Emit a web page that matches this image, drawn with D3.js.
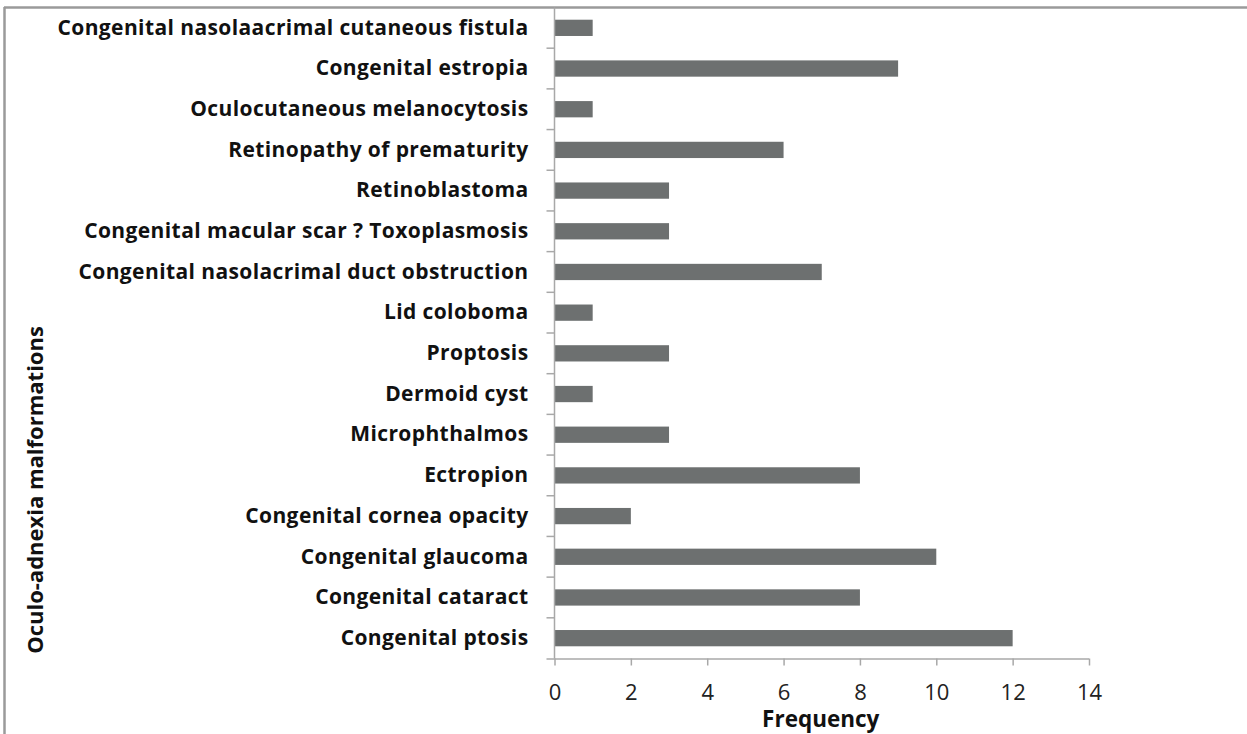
<!DOCTYPE html>
<html>
<head>
<meta charset="utf-8">
<script src="https://cdn.jsdelivr.net/npm/d3@7"></script>
<style>
  html, body { margin: 0; padding: 0; background: #fff; }
  svg { display: block; }
</style>
</head>
<body>
<svg id="chart" width="1247" height="734"></svg>
<script>
// Categories listed bottom-to-top as in the chart
const categories = [
  "Congenital ptosis",
  "Congenital cataract",
  "Congenital glaucoma",
  "Congenital cornea opacity",
  "Ectropion",
  "Microphthalmos",
  "Dermoid cyst",
  "Proptosis",
  "Lid coloboma",
  "Congenital nasolacrimal duct obstruction",
  "Congenital macular scar ? Toxoplasmosis",
  "Retinoblastoma",
  "Retinopathy of prematurity",
  "Oculocutaneous melanocytosis",
  "Congenital estropia",
  "Congenital nasolaacrimal cutaneous fistula"
];
const values = [12, 8, 10, 2, 8, 3, 1, 3, 1, 7, 3, 3, 6, 1, 9, 1];
const xTicks = [0, 2, 4, 6, 8, 10, 12, 14];
const xTitle = "Frequency";
const yTitle = "Oculo-adnexia malformations";

const svg = d3.select("#chart");
const font = "'Open Sans', sans-serif";
const plot = { left: 554.5, right: 1089, top: 7.5, bottom: 658.5 };

// frame (top and left edges visible)
svg.append("line").attr("x1", 4).attr("x2", 1247).attr("y1", 7.5).attr("y2", 7.5)
  .attr("stroke", "#9a9a9a").attr("stroke-width", 2.5);
svg.append("line").attr("x1", 4.5).attr("x2", 4.5).attr("y1", 7).attr("y2", 734)
  .attr("stroke", "#9a9a9a").attr("stroke-width", 2.5);

const x = d3.scaleLinear().domain([0, 14]).range([plot.left, plot.right]);
const y = d3.scaleBand().domain(categories).range([plot.bottom, plot.top]).paddingInner(0.6).paddingOuter(0.3);
const yGrid = d3.scaleBand().domain(categories).range([plot.bottom, plot.top]);

// bars
svg.append("g").selectAll("rect").data(categories).join("rect")
  .attr("x", x(0))
  .attr("y", d => y(d))
  .attr("width", (d, i) => x(values[i]) - x(0))
  .attr("height", y.bandwidth())
  .attr("fill", "#6d7070");

const axisColor = "#a8a8a8";
// x axis
const xAxis = svg.append("g").attr("transform", `translate(0,${plot.bottom})`)
  .call(d3.axisBottom(x).tickValues(xTicks).tickSize(7).tickSizeOuter(0).tickPadding(23));
xAxis.select(".domain").attr("stroke", axisColor).attr("stroke-width", 1.5)
  .attr("d", `M${plot.left - 8},0.5H${plot.right}`);
xAxis.selectAll(".tick line").attr("stroke", axisColor).attr("stroke-width", 1.5);
xAxis.selectAll(".tick text").attr("font-family", font).attr("font-size", 22)
  .attr("fill", "#222").attr("dy", "0.5em");

// y axis
const yAxis = svg.append("g").attr("transform", `translate(${plot.left},0)`)
  .call(d3.axisLeft(yGrid).tickSize(0).tickPadding(26));
yAxis.select(".domain").attr("stroke", axisColor).attr("stroke-width", 1.5)
  .attr("d", `M0,${plot.top}V${plot.bottom}`);
yAxis.selectAll(".tick text").attr("font-family", font).attr("font-size", 21)
  .attr("letter-spacing", "0.4px")
  .attr("font-weight", "bold").attr("fill", "#111");
// category separator ticks
svg.append("g").selectAll("line").data(categories.slice(1)).join("line")
  .attr("x1", plot.left - 8).attr("x2", plot.left)
  .attr("y1", d => yGrid(d) + yGrid.bandwidth())
  .attr("y2", d => yGrid(d) + yGrid.bandwidth())
  .attr("stroke", axisColor).attr("stroke-width", 1.5);

// titles
svg.append("text").attr("x", (plot.left + plot.right) / 2 - 1).attr("y", 727)
  .attr("text-anchor", "middle").attr("font-family", font).attr("font-size", 22.5)
  .attr("font-weight", "bold").attr("fill", "#111").text(xTitle);
svg.append("text").attr("transform", "translate(43,490) rotate(-90)")
  .attr("text-anchor", "middle").attr("font-family", font).attr("font-size", 22)
  .attr("font-weight", "bold").attr("fill", "#111").text(yTitle);
</script>
</body>
</html>
